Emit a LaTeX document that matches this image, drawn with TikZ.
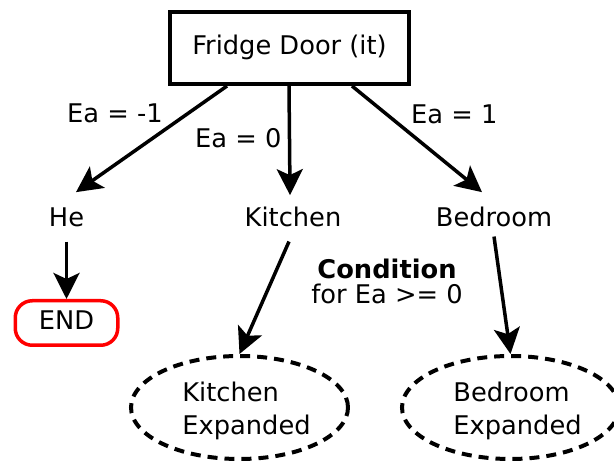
\documentclass[tikz,border=0pt]{standalone}
\usepackage{fontspec}
\setmainfont{DejaVu Sans}
\usetikzlibrary{arrows.meta,shapes.geometric}
\begin{document}
\begin{tikzpicture}[x=1pt,y=-1pt,
  every node/.style={font=\fontsize{25.7pt}{33pt}\selectfont},
  lbltext/.style={inner sep=0pt, text height=19.5pt, text depth=6.2pt},
  plaintext/.style={lbltext, minimum height=56pt},
  doorbox/.style={lbltext, draw, line width=4pt, minimum width=239pt, minimum height=72pt},
  endbox/.style={lbltext, draw=red, line width=3.5pt, rounded corners=17pt,
    minimum width=102.5pt, minimum height=44.5pt},
  expbox/.style={ellipse, draw, line width=4pt, dash pattern=on 10pt off 7pt,
    minimum width=217pt, minimum height=103pt, inner sep=0pt},
  exptext/.style={align=left, inner sep=0pt},
  condtext/.style={align=center, inner sep=0pt, font=\fontsize{25.7pt}{25pt}\selectfont},
  conn/.style={line width=3.5pt, -{Stealth[length=26pt,width=26pt,inset=6pt]}}
]
\useasboundingbox (0,0) rectangle (614,462);

% top decision box
\node[doorbox] (door) at (289.5,48) {Fridge Door (it)};

% second row
\node[plaintext, anchor=base] (he) at (66.5,227) {He};
\node[plaintext, anchor=base] (kitchen) at (293,227) {Kitchen};
\node[plaintext, anchor=base] (bedroom) at (494,227) {Bedroom};

% terminal and expanded states
\node[endbox] (end) at (66.5,323) {END};
\node[expbox] (kexp) at (239.5,407.5) {};
\node[exptext] (kexpt) at ([xshift=7pt,yshift=-3.4pt]kexp.center) {Kitchen\\Expanded};
\node[expbox] (bexp) at (510.5,407.5) {};
\node[exptext] (bexpt) at ([xshift=7pt,yshift=-3.4pt]bexp.center) {Bedroom\\Expanded};

% edge labels
\node[lbltext, anchor=base west] (lm1) at (67,123) {Ea = -1};
\node[lbltext, anchor=base west] (l0) at (195,148) {Ea = 0};
\node[lbltext, anchor=base west] (l1) at (411,124) {Ea = 1};
\node[condtext] (cond) at (387,281.75) {\textbf{Condition}\\for Ea >= 0};

% connectors
\draw[conn] ([xshift=-62.5pt]door.south) -- ([xshift=9.5pt]he.north);
\draw[conn, shorten >=-3pt] ([xshift=-0.5pt]door.south) -- ([xshift=-3pt]kitchen.north);
\draw[conn] ([xshift=62.5pt]door.south) -- ([xshift=-12pt]bedroom.north);
\draw[conn] ([yshift=7pt]he.south) -- (end.north);
\draw[conn] ([xshift=-4pt,yshift=7pt]kitchen.south) -- (kexp.north);
\draw[conn] ([yshift=12pt]bedroom.south) -- (bexp.north);
\end{tikzpicture}
\end{document}
